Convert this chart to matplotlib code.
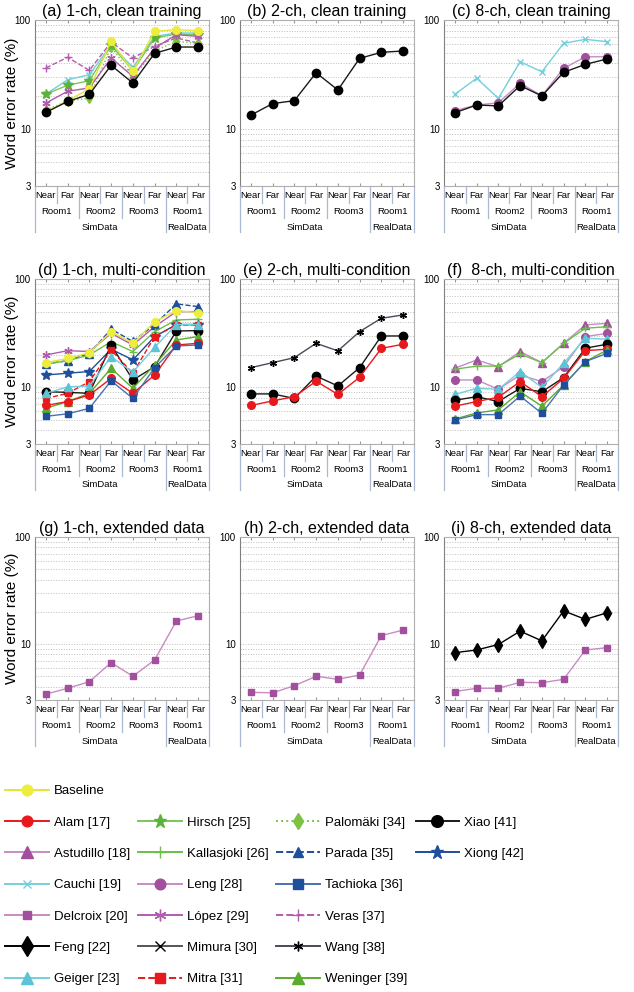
import matplotlib
matplotlib.use("Agg")
import matplotlib.pyplot as plt
from matplotlib import transforms
from matplotlib.lines import Line2D
from matplotlib.ticker import FixedLocator, NullFormatter

plt.rcParams['font.family'] = ['Liberation Sans', 'DejaVu Sans']

# --- x categories ---
conditions = ['Near', 'Far', 'Near', 'Far', 'Near', 'Far', 'Near', 'Far']
rooms = ['Room1', 'Room2', 'Room3', 'Room1']
datasets = ['SimData', 'RealData']

# --- WER (%) ---
a_veras = [36.3, 45.5, 34.5, 62.8, 44.8, 57.4, 68.4, 61.5]
a_palomaki = [15.0, 18.0, 19.2, 57.0, 30.0, 52.0, 63.6, 61.0]
a_cauchi = [20.9, 28.3, 31.5, 59.3, 36.8, 70.8, 76.0, 76.0]
a_hirsch = [20.9, 25.2, 27.7, 58.6, 34.3, 68.4, 74.4, 72.9]
a_lopez = [17.3, 22.2, 23.8, 44.8, 30.4, 55.3, 73.3, 70.8]
a_baseline = [14.3, 18.2, 23.4, 63.7, 33.8, 78.8, 81.5, 79.8]
a_xiao = [14.2, 17.9, 20.8, 38.4, 26.4, 49.5, 56.5, 56.5]

b_xiao = [13.4, 17.1, 18.2, 32.8, 22.8, 44.5, 50.5, 52.0]

c_cauchi = [20.8, 29.2, 19.1, 41.4, 33.5, 61.1, 66.5, 63.2]
c_leng = [14.7, 16.6, 17.4, 26.3, 20.2, 36.0, 46.0, 46.0]
c_xiao = [14.1, 16.6, 16.3, 25.0, 20.1, 33.1, 39.2, 43.9]

d_lopez = [19.9, 21.8, 21.4, 31.5, 24.6, 36.3, 50.0, 50.0]
d_parada = [16.5, 17.6, 20.5, 34.5, 26.5, 38.0, 58.9, 55.6]
d_kallasjoki = [16.4, 17.6, 19.9, 26.4, 21.4, 32.7, 41.9, 42.5]
d_xiong = [13.0, 13.5, 14.0, 22.5, 17.9, 29.4, 38.0, 38.0]
d_xiao = [9.1, 9.0, 8.8, 24.6, 11.7, 15.5, 33.1, 33.4]
d_mitra = [7.9, 8.8, 11.3, 22.1, 13.5, 29.4, 37.7, 37.7]
d_geiger = [8.8, 10.1, 10.3, 19.2, 13.8, 23.4, 38.0, 38.0]
d_weninger = [6.4, 7.4, 8.8, 15.0, 9.8, 16.1, 27.4, 29.4]
d_alam = [6.8, 7.4, 8.5, 12.1, 8.8, 13.0, 24.6, 25.5]
d_tachioka = [5.4, 5.7, 6.4, 11.5, 7.9, 15.2, 24.1, 24.6]
d_baseline = [16.9, 18.5, 20.9, 32.7, 25.5, 40.4, 51.0, 49.0]

e_wang = [15.2, 16.9, 18.8, 25.5, 21.7, 32.7, 43.4, 46.6]
e_xiao = [8.7, 8.7, 7.9, 12.7, 10.3, 15.2, 29.8, 29.8]
e_alam = [6.8, 7.5, 8.2, 11.4, 8.6, 12.4, 22.9, 25.0]

f_astudillo = [15.0, 17.9, 15.5, 21.4, 16.9, 25.5, 37.7, 39.0]
f_kallasjoki = [14.7, 15.7, 15.7, 20.3, 16.9, 25.5, 35.1, 36.3]
f_leng = [11.7, 11.7, 9.6, 13.0, 11.3, 15.5, 29.4, 31.5]
f_geiger = [8.6, 9.8, 9.6, 14.0, 10.0, 16.7, 28.4, 27.8]
f_xiao = [7.6, 8.2, 7.4, 9.8, 9.1, 12.3, 23.0, 25.0]
f_alam = [6.7, 7.4, 8.1, 11.3, 8.2, 12.1, 21.8, 22.5]
f_weninger = [5.1, 5.8, 6.2, 9.1, 6.7, 10.5, 17.3, 22.1]
f_tachioka = [5.0, 5.6, 5.6, 8.3, 5.75, 10.5, 17.3, 20.6]

g_delcroix = [3.4, 3.86, 4.45, 6.7, 5.0, 7.1, 16.4, 18.4]
h_delcroix = [3.54, 3.5, 4.08, 5.0, 4.68, 5.14, 12.0, 13.5]
i_feng = [8.3, 8.8, 9.9, 13.2, 10.7, 20.4, 17.0, 19.6]
i_delcroix = [3.6, 3.86, 3.86, 4.39, 4.35, 4.68, 8.8, 9.25]

PANELS = [
    ('(a) 1-ch, clean training', [('Veras [37]', a_veras), ('Palomäki [34]', a_palomaki),
                                  ('Cauchi [19]', a_cauchi), ('Hirsch [25]', a_hirsch),
                                  ('López [29]', a_lopez), ('Baseline', a_baseline),
                                  ('Xiao [41]', a_xiao)]),
    ('(b) 2-ch, clean training', [('Xiao [41]', b_xiao)]),
    ('(c) 8-ch, clean training', [('Cauchi [19]', c_cauchi), ('Leng [28]', c_leng),
                                  ('Xiao [41]', c_xiao)]),
    ('(d) 1-ch, multi-condition', [('López [29]', d_lopez), ('Parada [35]', d_parada),
                                   ('Kallasjoki [26]', d_kallasjoki), ('Xiong [42]', d_xiong),
                                   ('Xiao [41]', d_xiao), ('Mitra [31]', d_mitra),
                                   ('Geiger [23]', d_geiger), ('Weninger [39]', d_weninger),
                                   ('Alam [17]', d_alam), ('Tachioka [36]', d_tachioka),
                                   ('Baseline', d_baseline)]),
    ('(e) 2-ch, multi-condition', [('Wang [38]', e_wang), ('Xiao [41]', e_xiao),
                                   ('Alam [17]', e_alam)]),
    ('(f)  8-ch, multi-condition', [('Astudillo [18]', f_astudillo), ('Kallasjoki [26]', f_kallasjoki),
                                    ('Leng [28]', f_leng), ('Geiger [23]', f_geiger),
                                    ('Xiao [41]', f_xiao), ('Alam [17]', f_alam),
                                    ('Weninger [39]', f_weninger), ('Tachioka [36]', f_tachioka)]),
    ('(g) 1-ch, extended data', [('Delcroix [20]', g_delcroix)]),
    ('(h) 2-ch, extended data', [('Delcroix [20]', h_delcroix)]),
    ('(i) 8-ch, extended data', [('Feng [22]', i_feng), ('Delcroix [20]', i_delcroix)]),
]

# line colour, marker, face colour, linestyle, marker size (plot)
STYLES = {
    'Baseline':        ('#e4e43a', 'o', '#eded3c', '-', 5.5),
    'Alam [17]':       ('#e8191c', 'o', '#e8191c', '-', 5.5),
    'Astudillo [18]':  ('#c78cc4', '^', '#a24f9e', '-', 6),
    'Cauchi [19]':     ('#74cfdc', 'x', '#74cfdc', '-', 4.5),
    'Delcroix [20]':   ('#c78cc4', 's', '#a24f9e', '-', 4.5),
    'Feng [22]':       ('#000000', 'd', '#000000', '-', 7),
    'Geiger [23]':     ('#74cfdc', '^', '#5cc4d6', '-', 6),
    'Hirsch [25]':     ('#7cc654', '*', '#5cb33a', '-', 7),
    'Kallasjoki [26]': ('#6cbf4a', '+', '#6cbf4a', '-', 6),
    'Leng [28]':       ('#c78cc4', 'o', '#a24f9e', '-', 5.5),
    'López [29]':      ('#b25cae', (6, 2, 0), '#b25cae', '-', 6),
    'Mimura [30]':     ('#555555', 'x', '#000000', '-', 5),
    'Mitra [31]':      ('#e8191c', 's', '#e8191c', '--', 5),
    'Palomäki [34]':   ('#7dc242', 'd', '#7dc242', ':', 5.5),
    'Parada [35]':     ('#1f4e9c', '^', '#1f4e9c', '--', 5.5),
    'Tachioka [36]':   ('#4a72b0', 's', '#1f4e9c', '-', 5),
    'Veras [37]':      ('#b25cae', '+', '#b25cae', '--', 6),
    'Wang [38]':       ('#4a4a5a', (6, 2, 0), '#000000', '-', 5),
    'Weninger [39]':   ('#5aac2e', '^', '#5aac2e', '-', 6),
    'Xiao [41]':       ('#1a1a1a', 'o', '#000000', '-', 6),
    'Xiong [42]':      ('#1f4e9c', '*', '#1f4e9c', '-', 7),
}

W, H = 634, 992
fig = plt.figure(figsize=(W / 100, H / 100), dpi=100)

COLS = [(35, 209), (240, 414), (444, 618)]
ROWS = [(20, 186), (279, 444), (537, 700)]
SEP = '#a9b9d2'

for k, (title, series) in enumerate(PANELS):
    r, c = divmod(k, 3)
    (x0, x1), (y0, y1) = COLS[c], ROWS[r]
    h = y1 - y0
    ax = fig.add_axes([x0 / W, 1 - y1 / H, (x1 - x0) / W, h / H])
    xs = list(range(len(conditions)))
    for name, vals in series:
        col, mk, fc, ls, ms = STYLES[name]
        ax.plot(xs, vals, color=col, ls=ls, lw=1.0, marker=mk, ms=ms,
                mfc=fc, mec=fc, mew=1.0)

    ax.set_yscale('log')
    ax.set_ylim(3, 100)
    ax.set_xlim(-0.5, 7.5)
    ax.set_yticks([3, 10, 100])
    ax.set_yticklabels(['3', '10', '100'])
    ax.yaxis.set_minor_locator(FixedLocator([4, 5, 6, 7, 8, 9, 20, 30, 40, 50, 60, 70, 80, 90]))
    ax.yaxis.set_minor_formatter(NullFormatter())
    ax.grid(True, which='both', axis='y', ls=':', color='#bdbdbd', lw=0.7)
    ax.tick_params(axis='y', which='both', length=0, labelsize=7, pad=3)
    ax.set_xticks(xs)
    ax.set_xticklabels([])
    ax.tick_params(axis='x', length=2, direction='in', top=True, color='#999999')
    for s in ax.spines.values():
        s.set_color('#b0b0b0')
        s.set_linewidth(0.8)
    ax.spines['left'].set_color('#808080')
    ax.set_title(title, fontsize=11.5, pad=3)

    # category labels under the axis
    trans = transforms.blended_transform_factory(ax.transData, ax.transAxes)
    for i, lab in enumerate(conditions):
        ax.text(i, -10 / h, lab, transform=trans, ha='center', va='center', fontsize=6.8)
    for j, lab in enumerate(rooms):
        ax.text(2 * j + 0.5, -26 / h, lab, transform=trans, ha='center', va='center', fontsize=6.8)
    ax.text(2.5, -41 / h, datasets[0], transform=trans, ha='center', va='center', fontsize=6.8)
    ax.text(6.5, -41 / h, datasets[1], transform=trans, ha='center', va='center', fontsize=6.8)
    for xv, d in [(-0.5, 46), (0.5, 17), (1.5, 32), (2.5, 17), (3.5, 32),
                  (4.5, 17), (5.5, 46), (6.5, 17), (7.5, 46)]:
        ax.plot([xv, xv], [0, -d / h], transform=trans, clip_on=False, color=SEP, lw=0.9)

    if c == 0:
        ax.set_ylabel('Word error rate (%)', fontsize=11)
        ax.yaxis.set_label_coords(-0.09, 0.5)

# legend, 4 columns filled top-down, Baseline alone in the first row
order = [['Baseline', 'Alam [17]', 'Astudillo [18]', 'Cauchi [19]', 'Delcroix [20]', 'Feng [22]', 'Geiger [23]'],
         [None, 'Hirsch [25]', 'Kallasjoki [26]', 'Leng [28]', 'López [29]', 'Mimura [30]', 'Mitra [31]'],
         [None, 'Palomäki [34]', 'Parada [35]', 'Tachioka [36]', 'Veras [37]', 'Wang [38]', 'Weninger [39]'],
         [None, 'Xiao [41]', 'Xiong [42]', None, None, None, None]]
handles, labels = [], []
for column in order:
    for name in column:
        if name is None:
            handles.append(Line2D([], [], color='none'))
            labels.append('')
            continue
        col, mk, fc, ls, ms = STYLES[name]
        handles.append(Line2D([], [], color=col, ls=ls, lw=1.4, marker=mk, ms=ms * 1.4,
                              mfc=fc, mec=fc, mew=1.0))
        labels.append(name)

fig.legend(handles, labels, ncol=4, loc='upper left', bbox_to_anchor=(5 / W, 1 - 785 / H),
           frameon=False, fontsize=9.5, handlelength=3.3, handletextpad=0.4,
           columnspacing=0.6, labelspacing=1.45, borderpad=0, borderaxespad=0)

fig.savefig('out.png', dpi=100)
